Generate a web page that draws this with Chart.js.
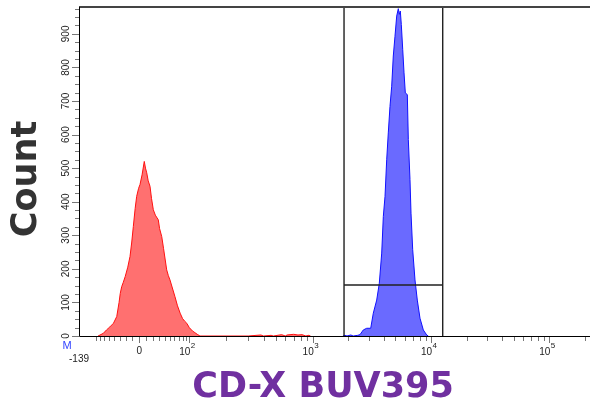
<!DOCTYPE html>
<html>
<head>
<meta charset="utf-8">
<script src="https://cdn.jsdelivr.net/npm/chart.js@4.4.1/dist/chart.umd.min.js"></script>
<style>
  html, body { margin: 0; padding: 0; background: #fff; }
  #wrap { width: 590px; height: 404px; position: relative; }
</style>
</head>
<body>
<div id="wrap"><canvas id="histo"></canvas></div>
<script>
// fluorescence value (biexponential axis) and event count per bin
const redX = [-75, -62, -55, -48, -41, -35, -31, -29, -26.6, -24, -21, -17, -13.6, -11, -8.7, -6, -3.8, -1, 1, 4, 7.2, 9, 10.8, 13, 15.7, 18, 20.8, 24, 28.8, 31, 34.7, 38, 43.8, 47, 50.3, 56, 61.1, 67, 73.6, 80, 86, 92.1, 100, 106, 111, 116, 122,
  300, 380, 400, 460, 480, 560, 600, 620, 700, 760, 820, 880, 930, 960];
const redY = [0, 8, 18, 27, 38, 58, 100, 127, 147, 160, 177, 205, 237, 280, 326, 380, 416, 440, 451, 480, 520, 500, 486, 462, 446, 410, 376, 360, 346, 320, 296, 260, 197, 180, 167, 140, 117, 90, 68, 52, 44, 38, 25, 15, 10, 5, 0,
  0, 3, 0, 2, 0, 4, 0, 3, 5, 3, 4, 0, 2, 0];

const blueX = [1800, 1875, 1950, 2100, 2200, 2400, 2511, 2677, 2861, 3093, 3253, 3475, 3656, 3831, 3953, 4086, 4222, 4355, 4501, 4653, 4800, 4962, 5129, 5292, 5395, 5501, 5610, 5766, 5914, 6066, 6306, 6430, 6644, 6776, 7002, 7323, 7659, 8072, 8610, 9199, 9489];
const blueY = [0, 2, 0, 3, 0, 2, 4, 18, 23, 23, 68, 107, 157, 247, 356, 416, 525, 605, 684, 744, 834, 893, 953, 975, 958, 968, 928, 854, 784, 724, 719, 585, 466, 366, 257, 167, 107, 53, 18, 3, 0];

// gate: x range and count threshold
const gateX = [1840, 12560];
const gateY = 152;

const xMin = -139, xMax = 220800;
const yMax = 980;
const xMajor = [0, 100, 1000, 10000, 100000];
const xMajorLabels = [['0', ''], ['10', '2'], ['10', '3'], ['10', '4'], ['10', '5']];
const xMinor = [-80, -70, -60, -50, -40, -30, -20, -10, 10, 20, 30, 40, 50, 60, 70, 80, 90,
  200, 300, 400, 500, 600, 700, 800, 900,
  2000, 3000, 4000, 5000, 6000, 7000, 8000, 9000,
  20000, 30000, 40000, 50000, 60000, 70000, 80000, 90000, 200000];
const yMajor = [0, 100, 200, 300, 400, 500, 600, 700, 800, 900];
const yMinorStep = 25;

// display transform (units = one high decade)
function disp(v) {
  if (v < 0) return -0.5097 * Math.asinh(-v / 50) / Math.asinh(139 / 50);
  if (v <= 100) return 0.4227 * Math.asinh(v / 50) / Math.asinh(2);
  if (v <= 1000) return 0.4227 + 1.0431 * (Math.log10(v) - 2);
  return 1.4658 + Math.log10(v) - 3;
}

class BiexScale extends Chart.LinearScale {
  getPixelForValue(value) {
    const d0 = disp(this.min), d1 = disp(this.max);
    return this.getPixelForDecimal((disp(value) - d0) / (d1 - d0));
  }
  getValueForPixel(pixel) {
    const t = this.getDecimalForPixel(pixel);
    let lo = this.min, hi = this.max;
    const d0 = disp(this.min), d1 = disp(this.max);
    const target = d0 + t * (d1 - d0);
    for (let i = 0; i < 60; i++) {
      const mid = (lo + hi) / 2;
      if (disp(mid) < target) lo = mid; else hi = mid;
    }
    return (lo + hi) / 2;
  }
}
BiexScale.id = 'biex';
BiexScale.defaults = Chart.LinearScale.defaults;
Chart.register(BiexScale);

const toPts = (xs, ys) => xs.map((x, i) => ({ x: x, y: ys[i] }));

const flowAxes = {
  id: 'flowAxes',
  afterDatasetsDraw(chart) {
    const ctx = chart.ctx;
    const xs = chart.scales.x, ys = chart.scales.y;
    const a = chart.chartArea;
    ctx.save();

    // gate
    const gl = xs.getPixelForValue(gateX[0]), gr = xs.getPixelForValue(gateX[1]);
    const gy = ys.getPixelForValue(gateY);
    ctx.strokeStyle = '#222';
    ctx.lineWidth = 1.4;
    ctx.beginPath();
    ctx.moveTo(gl, a.bottom); ctx.lineTo(gl, a.top);
    ctx.moveTo(gr, a.bottom); ctx.lineTo(gr, a.top);
    ctx.moveTo(gl, gy); ctx.lineTo(gr, gy);
    ctx.stroke();

    // frame
    ctx.strokeStyle = '#444';
    ctx.lineWidth = 2;
    ctx.beginPath();
    ctx.moveTo(a.left, a.top); ctx.lineTo(a.right, a.top);
    ctx.stroke();
    ctx.strokeStyle = '#000';
    ctx.lineWidth = 1;
    ctx.beginPath();
    ctx.moveTo(a.left + 0.5, a.top); ctx.lineTo(a.left + 0.5, a.bottom + 0.5);
    ctx.lineTo(a.right, a.bottom + 0.5);
    ctx.stroke();

    // x ticks
    ctx.strokeStyle = '#777';
    ctx.beginPath();
    xMinor.forEach(v => {
      const px = Math.round(xs.getPixelForValue(v)) + 0.5;
      ctx.moveTo(px, a.bottom + 1); ctx.lineTo(px, a.bottom + 5);
    });
    xMajor.forEach(v => {
      const px = Math.round(xs.getPixelForValue(v)) + 0.5;
      ctx.moveTo(px, a.bottom + 1); ctx.lineTo(px, a.bottom + 7);
    });
    // y ticks
    for (let v = 0; v < yMax; v += yMinorStep) {
      const py = Math.round(ys.getPixelForValue(v)) + 0.5;
      const len = yMajor.includes(v) ? 7 : 4;
      ctx.moveTo(a.left - len, py); ctx.lineTo(a.left, py);
    }
    ctx.stroke();

    // x labels
    ctx.fillStyle = '#222';
    ctx.textBaseline = 'alphabetic';
    xMajor.forEach((v, i) => {
      const px = xs.getPixelForValue(v);
      const [base, sup] = xMajorLabels[i];
      ctx.font = '10px "Liberation Sans", Arial, sans-serif';
      const w = ctx.measureText(base).width;
      if (!sup) {
        ctx.textAlign = 'center';
        ctx.fillText(base, px, a.bottom + 18);
      } else {
        ctx.textAlign = 'left';
        const x0 = px - w + 1;
        ctx.fillText(base, x0, a.bottom + 19);
        ctx.font = '8px "Liberation Sans", Arial, sans-serif';
        ctx.fillText(sup, x0 + w + 0.5, a.bottom + 12);
      }
    });
    ctx.font = '10px "Liberation Sans", Arial, sans-serif';
    ctx.textAlign = 'center';
    ctx.fillText(String(xMin), a.left, a.bottom + 26);
    ctx.fillStyle = '#3344ff';
    ctx.font = '11px "Liberation Sans", Arial, sans-serif';
    ctx.fillText('M', a.left - 12, a.bottom + 13);

    // y labels (rotated)
    ctx.fillStyle = '#222';
    ctx.font = '10px "Liberation Sans", Arial, sans-serif';
    yMajor.forEach(v => {
      const py = ys.getPixelForValue(v);
      ctx.save();
      ctx.translate(a.left - 10, py);
      ctx.rotate(-Math.PI / 2);
      ctx.textAlign = 'center';
      ctx.fillText(String(v), 0, 0);
      ctx.restore();
    });

    // titles
    ctx.font = 'bold 35px "DejaVu Sans", Verdana, sans-serif';
    ctx.textAlign = 'center';
    ctx.textBaseline = 'middle';
    ctx.fillStyle = '#7030a0';
    ctx.fillText('CD-X BUV395', 323, 388);
    ctx.save();
    ctx.translate(27, 179);
    ctx.rotate(-Math.PI / 2);
    ctx.fillStyle = '#333333';
    ctx.fillText('Count', 0, 0);
    ctx.restore();

    ctx.restore();
  }
};

new Chart(document.getElementById('histo'), {
  type: 'line',
  data: {
    datasets: [
      {
        label: 'Unstained',
        data: toPts(redX, redY),
        borderColor: '#ff1010',
        backgroundColor: 'rgba(255, 80, 80, 0.82)',
        borderWidth: 1,
        fill: 'origin',
        pointRadius: 0,
        tension: 0
      },
      {
        label: 'CD-X BUV395',
        data: toPts(blueX, blueY),
        borderColor: '#1010ff',
        backgroundColor: 'rgba(80, 80, 255, 0.85)',
        borderWidth: 1,
        fill: 'origin',
        pointRadius: 0,
        tension: 0
      }
    ]
  },
  options: {
    responsive: true,
    maintainAspectRatio: false,
    animation: false,
    layout: { padding: { left: 79, top: 7, right: 0, bottom: 68 } },
    plugins: { legend: { display: false }, tooltip: { enabled: false } },
    scales: {
      x: { type: 'biex', min: xMin, max: xMax, display: false },
      y: { type: 'linear', min: 0, max: yMax, display: false }
    }
  },
  plugins: [flowAxes]
});
</script>
</body>
</html>
